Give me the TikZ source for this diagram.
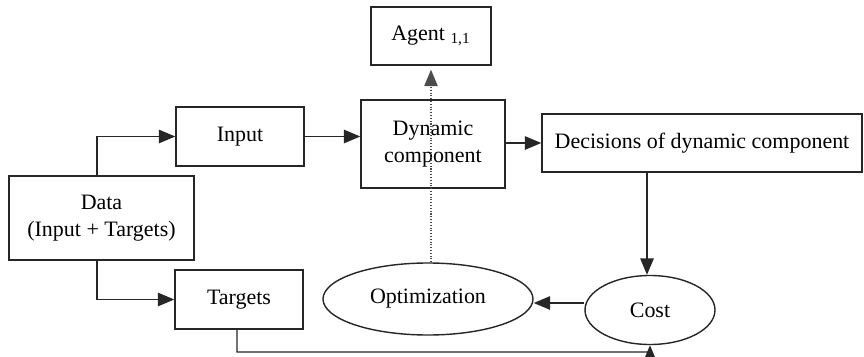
\documentclass[tikz,border=0pt]{standalone}
\usepackage{fontspec}
\setmainfont{Liberation Serif}
\usepackage{tikz}
\usetikzlibrary{arrows.meta,positioning,calc,shapes.geometric}
\tikzset{
  blockbox/.style={draw=black!85,line width=0.8pt,align=center,inner sep=2pt,
    font=\fontsize{12.5}{15}\selectfont},
  ovalbox/.style={ellipse,draw=black!85,line width=0.8pt,inner sep=0pt,
    font=\fontsize{12.5}{15}\selectfont},
  flowarrow/.style={-{Triangle[length=3.3mm,width=2.7mm]},line width=0.8pt,draw=black!85},
  dotarrow/.style={-{Triangle[length=3.3mm,width=2.7mm]},densely dotted,line width=0.6pt,draw=black!70}
}
\begin{document}
\begin{tikzpicture}[x=1.0cm,y=1.0cm]
  \useasboundingbox (0,0) rectangle (17.28,7.12);
  \node[blockbox,minimum width=3.7cm,minimum height=1.68cm] (data) at (2.03,2.76) {Data\\(Input + Targets)};
  \node[blockbox,minimum width=2.56cm,minimum height=1.18cm] (input) at (4.8,4.39) {Input};
  \node[blockbox,minimum width=2.56cm,minimum height=1.18cm] (targets) at (4.78,1.13) {Targets};
  \node[blockbox,minimum width=2.88cm,minimum height=1.76cm] (dynamic) at (8.66,4.24) {Dynamic\\component};
  \node[blockbox,minimum width=2.4cm,minimum height=1.16cm] (agent) at (8.62,6.4) {Agent \textsubscript{1,1}};
  \node[blockbox,minimum width=6.4cm,minimum height=1.16cm] (decisions) at (14.04,4.26) {Decisions of dynamic component};
  \node[ovalbox,minimum width=4.2cm,minimum height=1.44cm] (optim) at (8.56,1.14) {Optimization};
  \node[ovalbox,minimum width=2.6cm,minimum height=1.38cm] (cost) at (13.0,0.92) {Cost};
  \coordinate (tgtfoot) at ([xshift=-0.4mm]targets.south);
  \coordinate (bottom) at (4.74,0.08);
  \draw[flowarrow] ([xshift=-0.9mm]data.north) |- (input.west);
  \draw[flowarrow] ([xshift=-0.9mm]data.south) |- (targets.west);
  \draw[flowarrow] (input.east) -- (dynamic.west |- input.east);
  \draw[flowarrow] (dynamic.east |- decisions.west) -- (decisions.west);
  \draw[dotarrow] (agent.south |- optim.north) -- ([yshift=-0.08cm]agent.south);
  \draw[flowarrow] ([xshift=-0.06cm]cost.north |- decisions.south) -- ([xshift=-0.06cm]cost.north);
  \draw[flowarrow] ([yshift=1.4mm]cost.west) -- ([yshift=1.4mm]cost.west -| optim.east);
  \draw[flowarrow] (tgtfoot) -- (bottom) -| (cost.south);
\end{tikzpicture}
\end{document}
